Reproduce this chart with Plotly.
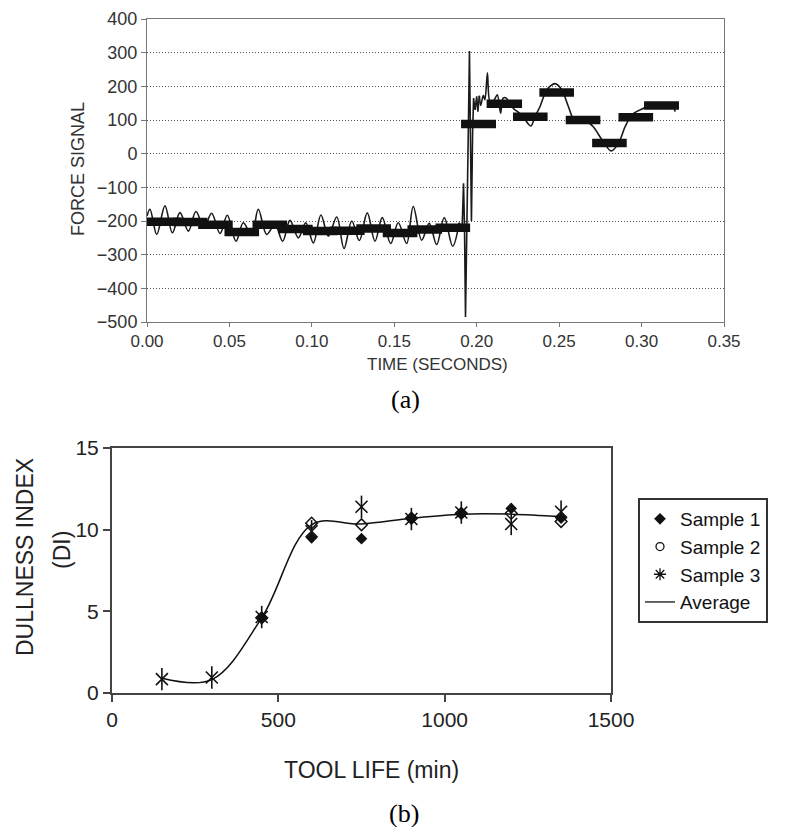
import plotly.graph_objects as go

# ---------------- (a) force signal ----------------
# oscillating part before the transient (time s, force)
osc_t = [0.0000, 0.0018, 0.0059, 0.0109, 0.0154, 0.0200, 0.0251, 0.0297, 0.0346, 0.0392,
         0.0443, 0.0487, 0.0540, 0.0584, 0.0635, 0.0675, 0.0726, 0.0776, 0.0823, 0.0867,
         0.0918, 0.0963, 0.1009, 0.1055, 0.1100, 0.1151, 0.1195, 0.1242, 0.1288, 0.1336,
         0.1383, 0.1427, 0.1478, 0.1524, 0.1575, 0.1615, 0.1666, 0.1712, 0.1757, 0.1803,
         0.1854, 0.1894]
osc_v = [-185, -165, -240, -155, -235, -175, -230, -172, -220, -177,
         -237, -183, -260, -205, -243, -165, -240, -210, -260, -198,
         -250, -205, -265, -182, -245, -188, -282, -200, -258, -176,
         -260, -190, -267, -205, -267, -157, -257, -207, -270, -190,
         -275, -205]

# transient (sharp spikes)
trans_t = [0.1894, 0.1911, 0.1920, 0.1926, 0.1932, 0.1941, 0.1950, 0.1956, 0.1962, 0.1968,
           0.1975, 0.1981, 0.1990, 0.2000, 0.2007, 0.2016]
trans_v = [-205, -230, -88, -220, -485, -100, 100, 305, -30, -200,
           60, 165, 130, 170, 125, 172]

# tail after the transient
tail_t = [0.2016, 0.2024, 0.2040, 0.2050, 0.2065, 0.2080, 0.2100, 0.2125, 0.2145, 0.2160,
          0.2180, 0.2200, 0.2225, 0.2250, 0.2280, 0.2310, 0.2329, 0.2354, 0.2384, 0.2425,
          0.2475, 0.2516, 0.2556, 0.2596, 0.2667, 0.2707, 0.2768, 0.2815, 0.2859, 0.2900,
          0.2940, 0.2991, 0.3051, 0.3193, 0.3203]
tail_v = [172, 143, 173, 160, 240, 155, 155, 175, 120, 165,
          165, 148, 133, 124, 110, 90, 82, 110, 140, 190,
          208, 190, 140, 95, 95, 80, 35, 8, 30, 80,
          115, 130, 142, 140, 125]

# window averages (thick bars)
bar_start = [0.000, 0.0157, 0.031, 0.047, 0.064, 0.0795, 0.0946, 0.111, 0.127, 0.143,
             0.158, 0.175, 0.1905, 0.206, 0.222, 0.238, 0.254, 0.270, 0.286, 0.3015]
bar_end = [0.021, 0.0367, 0.052, 0.068, 0.085, 0.1005, 0.1156, 0.132, 0.148, 0.164,
           0.179, 0.196, 0.2117, 0.2275, 0.243, 0.259, 0.275, 0.291, 0.307, 0.3227]
bar_level = [-202, -203, -211, -233, -211, -224, -230, -229, -222, -236,
             -225, -220, 88, 148, 110, 182, 100, 32, 108, 143]

time_ticks = [0.00, 0.05, 0.10, 0.15, 0.20, 0.25, 0.30, 0.35]
force_ticks = [400, 300, 200, 100, 0, -100, -200, -300, -400, -500]

# ---------------- (b) dullness index ----------------
tool_life = [150, 300, 450, 600, 750, 900, 1050, 1200, 1350]
sample1 = [None, None, 4.6, 9.5, 9.45, 10.7, 11.0, 11.3, 10.7]
sample2 = [None, None, 4.6, 10.4, 10.3, 10.7, 11.0, 11.0, 10.5]
sample3 = [0.85, 0.95, 4.65, 9.9, 11.4, 10.65, 11.05, 10.35, 11.1]
average = [0.9, 0.82, 4.6, 10.3, 10.35, 10.7, 10.95, 10.95, 10.8]

W, H = 795, 827
def px(x):
    return x / W
def py(y):
    return 1 - y / H

FONT = "Liberation Sans, Arial, sans-serif"
fig = go.Figure()

# ---- top chart traces
fig.add_trace(go.Scatter(x=osc_t, y=osc_v, mode="lines", line=dict(color="#1a1a1a", width=1.6, shape="spline", smoothing=1.0),
                         xaxis="x", yaxis="y", showlegend=False, hoverinfo="skip"))
fig.add_trace(go.Scatter(x=trans_t, y=trans_v, mode="lines", line=dict(color="#1a1a1a", width=1.6),
                         xaxis="x", yaxis="y", showlegend=False, hoverinfo="skip"))
fig.add_trace(go.Scatter(x=tail_t, y=tail_v, mode="lines", line=dict(color="#1a1a1a", width=1.6, shape="spline", smoothing=0.8),
                         xaxis="x", yaxis="y", showlegend=False, hoverinfo="skip"))
bx, by = [], []
for s, e, l in zip(bar_start, bar_end, bar_level):
    bx += [s, e, None]
    by += [l, l, None]
fig.add_trace(go.Scatter(x=bx, y=by, mode="lines", line=dict(color="#111111", width=8.5),
                         xaxis="x", yaxis="y", showlegend=False, hoverinfo="skip"))

# ---- bottom chart traces
fig.add_trace(go.Scatter(x=tool_life, y=average, mode="lines", line=dict(color="#111", width=1.5, shape="spline", smoothing=1.0),
                         xaxis="x2", yaxis="y2", showlegend=False))
fig.add_trace(go.Scatter(x=tool_life, y=sample2, mode="markers",
                         marker=dict(symbol="diamond-open", size=9, color="#111", line=dict(width=1.5, color="#111")),
                         xaxis="x2", yaxis="y2", showlegend=False))
fig.add_trace(go.Scatter(x=tool_life, y=sample1, mode="markers",
                         marker=dict(symbol="diamond", size=9, color="#111"),
                         xaxis="x2", yaxis="y2", showlegend=False))
fig.add_trace(go.Scatter(x=tool_life, y=sample3, mode="markers",
                         marker=dict(symbol="x-thin-open", size=12, color="#111", line=dict(width=1.6, color="#111")),
                         xaxis="x2", yaxis="y2", showlegend=False))
fig.add_trace(go.Scatter(x=tool_life, y=sample3, mode="markers",
                         marker=dict(symbol="line-ns-open", size=16, color="#111", line=dict(width=1.6, color="#111")),
                         xaxis="x2", yaxis="y2", showlegend=False))

# legend entries
fig.add_trace(go.Scatter(x=[None], y=[None], mode="markers", name="Sample 1",
                         marker=dict(symbol="diamond", size=9, color="#111"), xaxis="x2", yaxis="y2"))
fig.add_trace(go.Scatter(x=[None], y=[None], mode="markers", name="Sample 2",
                         marker=dict(symbol="circle-open", size=8, color="#111", line=dict(width=1.3)), xaxis="x2", yaxis="y2"))
fig.add_trace(go.Scatter(x=[None], y=[None], mode="markers", name="Sample 3",
                         marker=dict(symbol="asterisk-open", size=10, color="#111", line=dict(width=1.3, color="#111")), xaxis="x2", yaxis="y2"))
fig.add_trace(go.Scatter(x=[None], y=[None], mode="lines", name="Average",
                         line=dict(color="#333", width=1.5), xaxis="x2", yaxis="y2"))

fig.update_layout(
    width=W, height=H, autosize=False,
    margin=dict(l=0, r=0, t=0, b=0, autoexpand=False),
    paper_bgcolor="white", plot_bgcolor="white",
    font=dict(family=FONT, color="#222"),
    xaxis=dict(domain=[px(147), px(724)], range=[0, 0.35], tickvals=time_ticks, tickformat=".2f",
               showline=True, mirror=True, linecolor="#777", linewidth=1, ticks="outside", ticklen=4,
               tickcolor="#777", showgrid=False, zeroline=False, tickfont=dict(size=17, color="#333"),
               anchor="y", automargin=False),
    yaxis=dict(domain=[py(322), py(19)], range=[-500, 400], tickvals=force_ticks,
               showline=True, mirror=True, linecolor="#777", linewidth=1, ticks="outside", ticklen=5,
               tickcolor="#777", showgrid=True, gridcolor="#555", griddash="1px,2px", gridwidth=1,
               zeroline=False, tickfont=dict(size=18, color="#333"), anchor="x", automargin=False),
    xaxis2=dict(domain=[px(112), px(611)], range=[0, 1500], dtick=500,
                showline=True, mirror=True, linecolor="#444", linewidth=2, ticks="outside", ticklen=7,
                tickcolor="#444", tickwidth=1.5, showgrid=False, zeroline=False,
                tickfont=dict(size=21, color="#222"), anchor="y2", automargin=False),
    yaxis2=dict(domain=[py(693), py(448)], range=[0, 15], dtick=5,
                showline=True, mirror=True, linecolor="#444", linewidth=2, ticks="outside", ticklen=7,
                tickcolor="#444", tickwidth=1.5, showgrid=False, zeroline=False,
                tickfont=dict(size=21, color="#222"), anchor="x2", automargin=False),
    showlegend=True,
    legend=dict(x=px(638), y=py(498), xanchor="left", yanchor="top",
                bordercolor="#333", borderwidth=2, bgcolor="white",
                font=dict(size=19, color="#111", family=FONT), tracegroupgap=0),
)

ann = [
    dict(text="FORCE SIGNAL", x=px(78), y=py(169), textangle=-90, font=dict(size=18, color="#333")),
    dict(text="TIME (SECONDS)", x=px(437), y=py(364), font=dict(size=17, color="#333")),
    dict(text="(a)", x=px(405), y=py(399), font=dict(size=26, color="#000", family="Liberation Serif, Times New Roman, serif")),
    dict(text="DULLNESS INDEX", x=px(25), y=py(557), textangle=-90, font=dict(size=23, color="#222")),
    dict(text="(DI)", x=px(62), y=py(550), textangle=-90, font=dict(size=23, color="#222")),
    dict(text="TOOL LIFE (min)", x=px(371), y=py(770), font=dict(size=23, color="#222")),
    dict(text="(b)", x=px(404), y=py(813), font=dict(size=26, color="#000", family="Liberation Serif, Times New Roman, serif")),
]
for a in ann:
    a.update(xref="paper", yref="paper", showarrow=False, xanchor="center", yanchor="middle")
fig.update_layout(annotations=ann)

fig.write_html("out.html")
